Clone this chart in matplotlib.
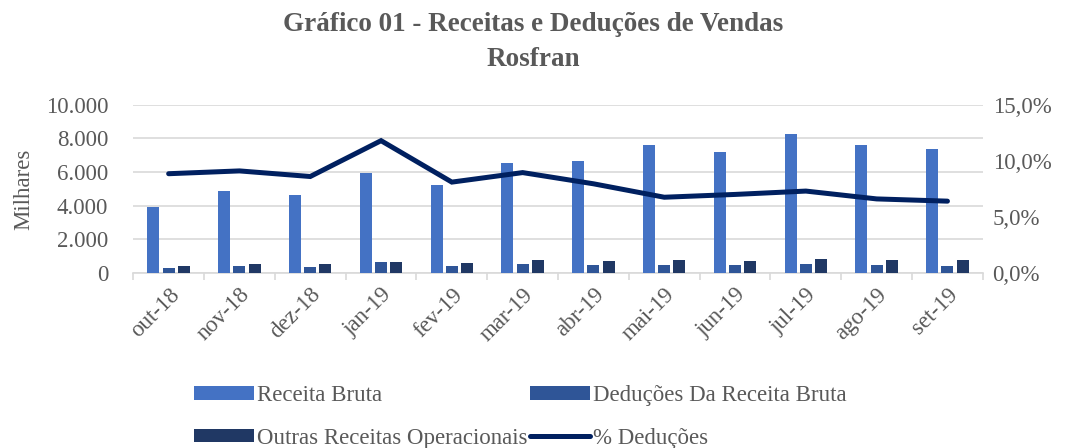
import numpy as np
import matplotlib
matplotlib.use("Agg")
import matplotlib.pyplot as plt
from matplotlib.ticker import FuncFormatter, FixedLocator

# dados
meses = ["out-18", "nov-18", "dez-18", "jan-19", "fev-19", "mar-19",
         "abr-19", "mai-19", "jun-19", "jul-19", "ago-19", "set-19"]
receita_bruta = [3900, 4900, 4650, 5950, 5200, 6550, 6650, 7600, 7200, 8250, 7600, 7350]
deducoes = [280, 380, 340, 640, 380, 520, 460, 440, 440, 520, 440, 400]
outras_receitas = [400, 520, 500, 640, 560, 760, 680, 740, 680, 820, 740, 740]
pct_deducoes = [8.85, 9.1, 8.6, 11.8, 8.1, 8.95, 7.95, 6.75, 7.0, 7.3, 6.6, 6.4]

cor_receita = "#4472C4"
cor_deducoes = "#2F5597"
cor_outras = "#203864"
cor_linha = "#002060"
cinza = "#595959"

plt.rcParams['font.family'] = ['Liberation Serif', 'DejaVu Serif']

fig = plt.figure(figsize=(10.66, 4.48), dpi=100)
ax = fig.add_axes([0.125, 0.391, 0.797, 0.375])
ax2 = ax.twinx()

x = np.arange(len(meses))
w = 0.17
d = 0.215
b1 = ax.bar(x - d, receita_bruta, w, color=cor_receita, label="Receita Bruta", zorder=3)
b2 = ax.bar(x, deducoes, w, color=cor_deducoes, label="Deduções Da Receita Bruta", zorder=3)
b3 = ax.bar(x + d, outras_receitas, w, color=cor_outras, label="Outras Receitas Operacionais", zorder=3)
l1, = ax2.plot(x, pct_deducoes, color=cor_linha, lw=3.6, solid_capstyle='round',
               solid_joinstyle='miter', label="% Deduções", zorder=4)

ax.set_xlim(-0.5, len(meses) - 0.5)
ax.set_ylim(0, 10000)
ax.set_yticks(np.arange(0, 10001, 2000))
ax.yaxis.set_major_formatter(FuncFormatter(lambda v, p: f"{int(v):,}".replace(",", ".")))
ax2.set_ylim(0, 15)
ax2.set_yticks([0, 5, 10, 15])
ax2.yaxis.set_major_formatter(FuncFormatter(lambda v, p: f"{v:.1f}%".replace(".", ",")))

ax.grid(axis='y', color="#D9D9D9", lw=1.2, zorder=0)
ax.set_axisbelow(True)

for a in (ax, ax2):
    for s in ("top", "left", "right", "bottom"):
        a.spines[s].set_visible(False)
ax.spines["bottom"].set_visible(True)
ax.spines["bottom"].set_color("#D9D9D9")
ax.spines["bottom"].set_linewidth(1.2)

fs = 16.5
ax.set_xticks(x)
ax.set_xticklabels(meses, rotation=45, ha='right', rotation_mode='anchor')
ax.tick_params(axis='x', which='major', length=0, labelsize=fs, labelcolor=cinza, pad=8)
ax.xaxis.set_minor_locator(FixedLocator(np.arange(-0.5, len(meses), 1.0)))
ax.tick_params(axis='x', which='minor', length=5, color="#D9D9D9", width=1.2)
ax.tick_params(axis='y', length=0, labelsize=fs, labelcolor=cinza, pad=18)
ax2.tick_params(axis='y', length=0, labelsize=fs, labelcolor=cinza, pad=7)

ax.set_ylabel("Milhares", fontsize=fs, color=cinza, labelpad=8)

fig.text(0.5, 0.945, "Gráfico 01 - Receitas e Deduções de Vendas", ha='center', va='center',
         fontsize=19.5, fontweight='bold', color=cinza)
fig.text(0.5, 0.868, "Rosfran", ha='center', va='center',
         fontsize=19.5, fontweight='bold', color=cinza)

leg = fig.legend([b1, b3, b2, l1],
                 ["Receita Bruta", "Outras Receitas Operacionais",
                  "Deduções Da Receita Bruta", "% Deduções"],
                 ncol=2, loc='center left', bbox_to_anchor=(0.163, 0.07),
                 frameon=False, fontsize=fs, handlelength=2.6, handleheight=0.55,
                 handletextpad=0.15, columnspacing=0.1, labelspacing=0.95,
                 labelcolor=cinza)

fig.savefig("out.png", dpi=100)
